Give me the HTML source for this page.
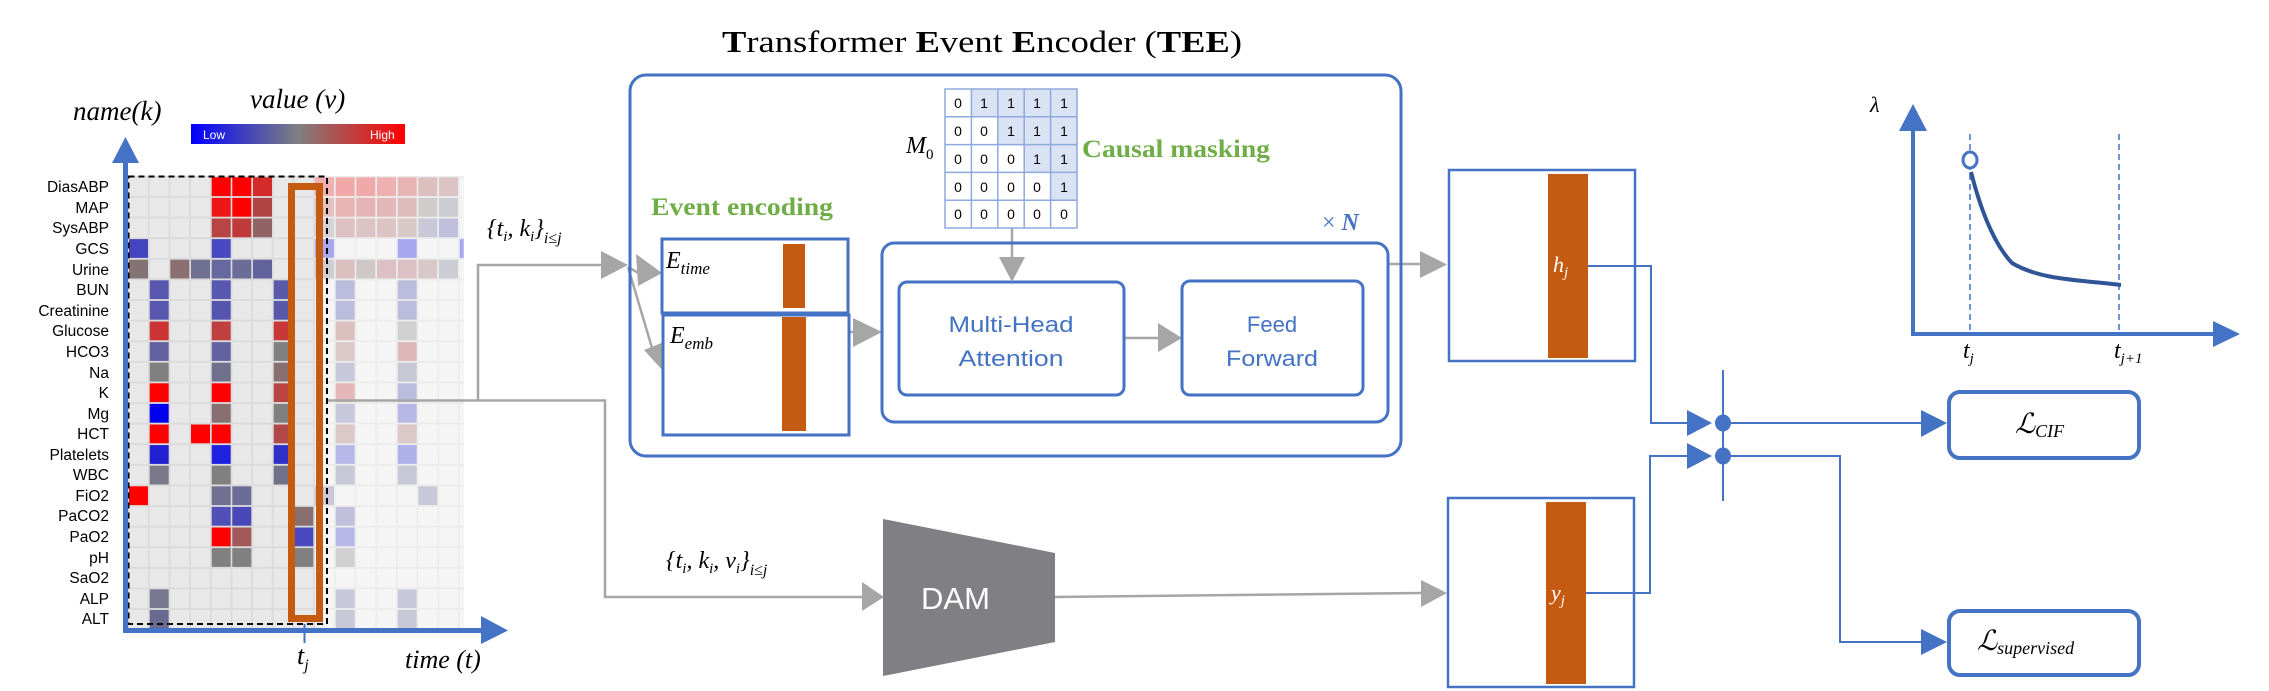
<!DOCTYPE html>
<html><head><meta charset="utf-8"><style>
html,body{margin:0;padding:0;background:#fff;}
svg{display:block;font-family:"Liberation Serif",serif;}
.lab text{font-family:"Liberation Sans",sans-serif;font-size:15.5px;fill:#000;text-anchor:end;}
.m{font-family:"Liberation Serif",serif;font-style:italic;}
.sans{font-family:"Liberation Sans",sans-serif;}
</style></head><body>
<svg width="2269" height="691" viewBox="0 0 2269 691" xmlns="http://www.w3.org/2000/svg">
<defs>
<pattern id="gd" x="129" y="177.3" width="20.67" height="20.6" patternUnits="userSpaceOnUse">
<rect width="20.67" height="20.6" fill="#dadada"/><rect x="0" y="0" width="19" height="18.8" fill="#e8e8e8"/></pattern>
<pattern id="gl" x="129" y="177.3" width="20.67" height="20.6" patternUnits="userSpaceOnUse">
<rect width="20.67" height="20.6" fill="#ececec"/><rect x="0" y="0" width="19" height="18.8" fill="#f5f5f5"/></pattern>
<linearGradient id="cb" x1="0" x2="1" y1="0" y2="0">
<stop offset="0" stop-color="#0000ff"/><stop offset="0.5" stop-color="#808080"/><stop offset="1" stop-color="#ff0000"/></linearGradient>
</defs>

<rect x="128" y="176" width="187" height="454" fill="url(#gd)"/>
<rect x="315" y="176" width="149" height="454" fill="url(#gl)"/>

<g>
<rect x="211.7" y="177.3" width="19" height="18.8" fill="#ff0000"/>
<rect x="232.3" y="177.3" width="19" height="18.8" fill="#ff0000"/>
<rect x="253" y="177.3" width="19" height="18.8" fill="#d42a2a"/>
<rect x="315" y="177.3" width="19" height="18.8" fill="#f0b0b0"/>
<rect x="335.7" y="177.3" width="19" height="18.8" fill="#f2a8a8"/>
<rect x="356.3" y="177.3" width="19" height="18.8" fill="#f0a8a8"/>
<rect x="377" y="177.3" width="19" height="18.8" fill="#eeb0b0"/>
<rect x="397.7" y="177.3" width="19" height="18.8" fill="#e8b4b4"/>
<rect x="418.3" y="177.3" width="19" height="18.8" fill="#dcc0c0"/>
<rect x="439" y="177.3" width="19" height="18.8" fill="#dcc4c4"/>
<rect x="211.7" y="197.9" width="19" height="18.8" fill="#ee1515"/>
<rect x="232.3" y="197.9" width="19" height="18.8" fill="#ff0000"/>
<rect x="253" y="197.9" width="19" height="18.8" fill="#b04444"/>
<rect x="315" y="197.9" width="19" height="18.8" fill="#e4c0c0"/>
<rect x="335.7" y="197.9" width="19" height="18.8" fill="#e8b4b4"/>
<rect x="356.3" y="197.9" width="19" height="18.8" fill="#e6b4b4"/>
<rect x="377" y="197.9" width="19" height="18.8" fill="#e4b8b8"/>
<rect x="397.7" y="197.9" width="19" height="18.8" fill="#dcbcbc"/>
<rect x="418.3" y="197.9" width="19" height="18.8" fill="#d0cccc"/>
<rect x="439" y="197.9" width="19" height="18.8" fill="#cccdd4"/>
<rect x="211.7" y="218.5" width="19" height="18.8" fill="#b84444"/>
<rect x="232.3" y="218.5" width="19" height="18.8" fill="#c03a3a"/>
<rect x="253" y="218.5" width="19" height="18.8" fill="#906464"/>
<rect x="315" y="218.5" width="19" height="18.8" fill="#d4d2d6"/>
<rect x="335.7" y="218.5" width="19" height="18.8" fill="#dcc0c4"/>
<rect x="356.3" y="218.5" width="19" height="18.8" fill="#dcc4c4"/>
<rect x="377" y="218.5" width="19" height="18.8" fill="#dcc4c4"/>
<rect x="397.7" y="218.5" width="19" height="18.8" fill="#d8c8c8"/>
<rect x="418.3" y="218.5" width="19" height="18.8" fill="#c8c8d8"/>
<rect x="439" y="218.5" width="19" height="18.8" fill="#c0c0dc"/>
<rect x="129" y="239.1" width="19" height="18.8" fill="#4444c0"/>
<rect x="211.7" y="239.1" width="19" height="18.8" fill="#4848c0"/>
<rect x="315" y="239.1" width="19" height="18.8" fill="#a8a8f0"/>
<rect x="397.7" y="239.1" width="19" height="18.8" fill="#a8a8f0"/>
<rect x="459.7" y="239.1" width="4" height="18.8" fill="#a8a8f0"/>
<rect x="129" y="259.7" width="19" height="18.8" fill="#857272"/>
<rect x="170.3" y="259.7" width="19" height="18.8" fill="#8a7070"/>
<rect x="191" y="259.7" width="19" height="18.8" fill="#707090"/>
<rect x="211.7" y="259.7" width="19" height="18.8" fill="#6868a0"/>
<rect x="232.3" y="259.7" width="19" height="18.8" fill="#6c6c98"/>
<rect x="253" y="259.7" width="19" height="18.8" fill="#62629c"/>
<rect x="315" y="259.7" width="19" height="18.8" fill="#d0ccd4"/>
<rect x="335.7" y="259.7" width="19" height="18.8" fill="#dcc0c0"/>
<rect x="356.3" y="259.7" width="19" height="18.8" fill="#d0c8c8"/>
<rect x="377" y="259.7" width="19" height="18.8" fill="#dcc0c4"/>
<rect x="397.7" y="259.7" width="19" height="18.8" fill="#dcc0c4"/>
<rect x="418.3" y="259.7" width="19" height="18.8" fill="#d8c8c8"/>
<rect x="439" y="259.7" width="19" height="18.8" fill="#ccccd4"/>
<rect x="149.7" y="280.3" width="19" height="18.8" fill="#5858b0"/>
<rect x="211.7" y="280.3" width="19" height="18.8" fill="#5858b0"/>
<rect x="273.7" y="280.3" width="19" height="18.8" fill="#5a5aa8"/>
<rect x="335.7" y="280.3" width="19" height="18.8" fill="#bcbcdc"/>
<rect x="397.7" y="280.3" width="19" height="18.8" fill="#bcbcdc"/>
<rect x="149.7" y="300.9" width="19" height="18.8" fill="#5858b0"/>
<rect x="211.7" y="300.9" width="19" height="18.8" fill="#5555b0"/>
<rect x="273.7" y="300.9" width="19" height="18.8" fill="#5858a8"/>
<rect x="335.7" y="300.9" width="19" height="18.8" fill="#bcbcdc"/>
<rect x="397.7" y="300.9" width="19" height="18.8" fill="#bcbcdc"/>
<rect x="149.7" y="321.5" width="19" height="18.8" fill="#cc3333"/>
<rect x="211.7" y="321.5" width="19" height="18.8" fill="#c04040"/>
<rect x="273.7" y="321.5" width="19" height="18.8" fill="#c83838"/>
<rect x="335.7" y="321.5" width="19" height="18.8" fill="#dcc0c0"/>
<rect x="397.7" y="321.5" width="19" height="18.8" fill="#d0d0d0"/>
<rect x="149.7" y="342.1" width="19" height="18.8" fill="#6262a0"/>
<rect x="211.7" y="342.1" width="19" height="18.8" fill="#6262a0"/>
<rect x="273.7" y="342.1" width="19" height="18.8" fill="#808080"/>
<rect x="335.7" y="342.1" width="19" height="18.8" fill="#dcc8c8"/>
<rect x="397.7" y="342.1" width="19" height="18.8" fill="#dcb8b8"/>
<rect x="149.7" y="362.7" width="19" height="18.8" fill="#808080"/>
<rect x="211.7" y="362.7" width="19" height="18.8" fill="#70708c"/>
<rect x="273.7" y="362.7" width="19" height="18.8" fill="#887070"/>
<rect x="335.7" y="362.7" width="19" height="18.8" fill="#c8c8dc"/>
<rect x="397.7" y="362.7" width="19" height="18.8" fill="#c8c8d4"/>
<rect x="149.7" y="383.3" width="19" height="18.8" fill="#ff0000"/>
<rect x="211.7" y="383.3" width="19" height="18.8" fill="#ff0000"/>
<rect x="273.7" y="383.3" width="19" height="18.8" fill="#b84444"/>
<rect x="335.7" y="383.3" width="19" height="18.8" fill="#e4b8b8"/>
<rect x="397.7" y="383.3" width="19" height="18.8" fill="#bcbcdc"/>
<rect x="149.7" y="403.9" width="19" height="18.8" fill="#0000ee"/>
<rect x="211.7" y="403.9" width="19" height="18.8" fill="#887070"/>
<rect x="273.7" y="403.9" width="19" height="18.8" fill="#808080"/>
<rect x="335.7" y="403.9" width="19" height="18.8" fill="#c8c8dc"/>
<rect x="397.7" y="403.9" width="19" height="18.8" fill="#b8b8e4"/>
<rect x="149.7" y="424.5" width="19" height="18.8" fill="#ff0000"/>
<rect x="191" y="424.5" width="19" height="18.8" fill="#ff0000"/>
<rect x="211.7" y="424.5" width="19" height="18.8" fill="#ff0000"/>
<rect x="273.7" y="424.5" width="19" height="18.8" fill="#b04848"/>
<rect x="335.7" y="424.5" width="19" height="18.8" fill="#dcc8c8"/>
<rect x="397.7" y="424.5" width="19" height="18.8" fill="#dcc8c8"/>
<rect x="149.7" y="445.1" width="19" height="18.8" fill="#2020d0"/>
<rect x="211.7" y="445.1" width="19" height="18.8" fill="#2020e0"/>
<rect x="273.7" y="445.1" width="19" height="18.8" fill="#3030c8"/>
<rect x="335.7" y="445.1" width="19" height="18.8" fill="#b8b8e8"/>
<rect x="397.7" y="445.1" width="19" height="18.8" fill="#b0b0e8"/>
<rect x="149.7" y="465.7" width="19" height="18.8" fill="#787888"/>
<rect x="211.7" y="465.7" width="19" height="18.8" fill="#808080"/>
<rect x="273.7" y="465.7" width="19" height="18.8" fill="#707088"/>
<rect x="335.7" y="465.7" width="19" height="18.8" fill="#c8c8d8"/>
<rect x="397.7" y="465.7" width="19" height="18.8" fill="#c8c8d8"/>
<rect x="129" y="486.3" width="19" height="18.8" fill="#ff0000"/>
<rect x="211.7" y="486.3" width="19" height="18.8" fill="#707090"/>
<rect x="232.3" y="486.3" width="19" height="18.8" fill="#6c6c98"/>
<rect x="315" y="486.3" width="19" height="18.8" fill="#c8c8d8"/>
<rect x="418.3" y="486.3" width="19" height="18.8" fill="#c8c8d8"/>
<rect x="211.7" y="506.9" width="19" height="18.8" fill="#5050b8"/>
<rect x="232.3" y="506.9" width="19" height="18.8" fill="#4848b8"/>
<rect x="294.3" y="506.9" width="19" height="18.8" fill="#887070"/>
<rect x="335.7" y="506.9" width="19" height="18.8" fill="#c0c0dc"/>
<rect x="211.7" y="527.5" width="19" height="18.8" fill="#ff0000"/>
<rect x="232.3" y="527.5" width="19" height="18.8" fill="#a05858"/>
<rect x="294.3" y="527.5" width="19" height="18.8" fill="#4848c0"/>
<rect x="335.7" y="527.5" width="19" height="18.8" fill="#b8b8e8"/>
<rect x="211.7" y="548.1" width="19" height="18.8" fill="#808080"/>
<rect x="232.3" y="548.1" width="19" height="18.8" fill="#808080"/>
<rect x="294.3" y="548.1" width="19" height="18.8" fill="#808080"/>
<rect x="335.7" y="548.1" width="19" height="18.8" fill="#d0d0d0"/>
<rect x="149.7" y="589.3" width="19" height="18.8" fill="#787890"/>
<rect x="335.7" y="589.3" width="19" height="18.8" fill="#c8c8dc"/>
<rect x="397.7" y="589.3" width="19" height="18.8" fill="#c8c8dc"/>
<rect x="149.7" y="609.9" width="19" height="18.8" fill="#6a6a90"/>
<rect x="335.7" y="609.9" width="19" height="18.8" fill="#c8c8d8"/>
<rect x="397.7" y="609.9" width="19" height="18.8" fill="#c8c8d8"/>
</g>

<rect x="128.5" y="176.5" width="198.5" height="447.5" fill="none" stroke="#000" stroke-width="2" stroke-dasharray="6,4"/>
<rect x="291.5" y="186.5" width="28" height="432" fill="none" stroke="#c55a11" stroke-width="7"/>

<g class="lab">
<text x="109" y="192">DiasABP</text>
<text x="109" y="213">MAP</text>
<text x="109" y="233">SysABP</text>
<text x="109" y="254">GCS</text>
<text x="109" y="275">Urine</text>
<text x="109" y="295">BUN</text>
<text x="109" y="316">Creatinine</text>
<text x="109" y="336">Glucose</text>
<text x="109" y="357">HCO3</text>
<text x="109" y="378">Na</text>
<text x="109" y="398">K</text>
<text x="109" y="419">Mg</text>
<text x="109" y="439">HCT</text>
<text x="109" y="460">Platelets</text>
<text x="109" y="480">WBC</text>
<text x="109" y="501">FiO2</text>
<text x="109" y="521">PaCO2</text>
<text x="109" y="542">PaO2</text>
<text x="109" y="563">pH</text>
<text x="109" y="583">SaO2</text>
<text x="109" y="604">ALP</text>
<text x="109" y="624">ALT</text>
</g>

<line x1="125.5" y1="160" x2="125.5" y2="633" stroke="#4472c4" stroke-width="5"/>
<polygon points="112,163 139,163 125.5,137" fill="#4472c4"/>
<line x1="123" y1="630.5" x2="482" y2="630.5" stroke="#4472c4" stroke-width="5"/>
<polygon points="481,616 481,644 508,630.5" fill="#4472c4"/>
<line x1="304.5" y1="624" x2="304.5" y2="643" stroke="#4472c4" stroke-width="2"/>
<text class="m" x="297" y="664" font-size="26">t<tspan font-size="16" dy="6">j</tspan></text>
<text class="m" x="405" y="668" font-size="26">time (t)</text>
<text class="m" x="73" y="120" font-size="27">name(k)</text>
<text class="m" x="250" y="108" font-size="27">value (v)</text>
<rect x="191" y="124" width="214" height="20" fill="url(#cb)"/>
<text class="sans" x="203" y="139" font-size="12" fill="#fff">Low</text>
<text class="sans" x="370" y="139" font-size="12" fill="#fff">High</text>

<g stroke="#a6a6a6" stroke-width="2.5" fill="none">
<polyline points="328,400.5 605,400.5 605,597 862,597"/>
<polyline points="478,400.5 478,265 604,265"/>
<line x1="628" y1="267" x2="642" y2="275"/>
<line x1="628" y1="267" x2="655" y2="358"/>
<line x1="849" y1="332" x2="864" y2="332"/>
<line x1="1124" y1="338" x2="1160" y2="338"/>
<line x1="1012" y1="228" x2="1012" y2="260"/>
<line x1="1388" y1="264" x2="1422" y2="264"/>
<line x1="1055" y1="597" x2="1422" y2="593"/>
</g>
<g fill="#a6a6a6">
<polygon points="601,251 601,279 628,265"/>
<polygon points="636,254 662,273 638,286"/>
<polygon points="644,350 664,372 671,339"/>
<polygon points="862,582 862,611 884,597"/>
<polygon points="853,318 853,347 882,332"/>
<polygon points="1158,323 1158,352 1182,338"/>
<polygon points="1420,251 1420,278 1447,264.5"/>
<polygon points="1421,580 1421,607 1447,593"/>
</g>
<text class="m" x="487" y="236" font-size="24">{t<tspan font-size="15" dy="5">i</tspan><tspan dy="-5">, k</tspan><tspan font-size="15" dy="5">i</tspan><tspan dy="-5">}</tspan><tspan font-size="16" dy="7">i≤j</tspan></text>
<text class="m" x="666" y="568" font-size="24">{t<tspan font-size="15" dy="5">i</tspan><tspan dy="-5">, k</tspan><tspan font-size="15" dy="5">i</tspan><tspan dy="-5">, v</tspan><tspan font-size="15" dy="5">i</tspan><tspan dy="-5">}</tspan><tspan font-size="16" dy="7">i≤j</tspan></text>

<text x="722" y="52" font-size="31" textLength="520" lengthAdjust="spacingAndGlyphs"><tspan font-weight="bold">T</tspan>ransformer <tspan font-weight="bold">E</tspan>vent <tspan font-weight="bold">E</tspan>ncoder (<tspan font-weight="bold">TEE</tspan>)</text>

<rect x="630" y="75" width="771" height="381" rx="16" fill="none" stroke="#4472c4" stroke-width="3"/>

<g class="sans" font-size="14" text-anchor="middle" fill="#000">
<rect x="945" y="89" width="132" height="139" fill="#fff"/>
<rect x="971.4" y="89" width="105.6" height="27.8" fill="#dae3f3"/>
<rect x="997.8" y="116.8" width="79.2" height="27.8" fill="#dae3f3"/>
<rect x="1024.2" y="144.6" width="52.8" height="27.8" fill="#dae3f3"/>
<rect x="1050.6" y="172.4" width="26.4" height="27.8" fill="#dae3f3"/>
<g stroke="#8faadc" stroke-width="1.5" fill="none">
<rect x="945" y="89" width="132" height="139"/>
<line x1="971.4" y1="89" x2="971.4" y2="228"/><line x1="997.8" y1="89" x2="997.8" y2="228"/>
<line x1="1024.2" y1="89" x2="1024.2" y2="228"/><line x1="1050.6" y1="89" x2="1050.6" y2="228"/>
<line x1="945" y1="116.8" x2="1077" y2="116.8"/><line x1="945" y1="144.6" x2="1077" y2="144.6"/>
<line x1="945" y1="172.4" x2="1077" y2="172.4"/><line x1="945" y1="200.2" x2="1077" y2="200.2"/>
</g>
<text x="958" y="108">0</text><text x="984" y="108">1</text><text x="1011" y="108">1</text><text x="1037" y="108">1</text><text x="1064" y="108">1</text>
<text x="958" y="136">0</text><text x="984" y="136">0</text><text x="1011" y="136">1</text><text x="1037" y="136">1</text><text x="1064" y="136">1</text>
<text x="958" y="164">0</text><text x="984" y="164">0</text><text x="1011" y="164">0</text><text x="1037" y="164">1</text><text x="1064" y="164">1</text>
<text x="958" y="192">0</text><text x="984" y="192">0</text><text x="1011" y="192">0</text><text x="1037" y="192">0</text><text x="1064" y="192">1</text>
<text x="958" y="219">0</text><text x="984" y="219">0</text><text x="1011" y="219">0</text><text x="1037" y="219">0</text><text x="1064" y="219">0</text>
</g>
<text class="m" x="906" y="153" font-size="24">M<tspan font-size="15" dy="6" font-style="normal">0</tspan></text>
<text x="1082" y="157" font-size="25" font-weight="bold" fill="#70ad47" textLength="188" lengthAdjust="spacingAndGlyphs">Causal masking</text>
<text x="651" y="215" font-size="25" font-weight="bold" fill="#70ad47" textLength="182" lengthAdjust="spacingAndGlyphs">Event encoding</text>
<text x="1322" y="230" font-size="24" fill="#4472c4">× <tspan font-weight="bold" font-style="italic">N</tspan></text>

<rect x="662" y="239" width="186" height="74" fill="#fff" stroke="#4472c4" stroke-width="3"/>
<rect x="783" y="244" width="22" height="64" fill="#c55a11"/>
<rect x="663" y="315" width="186" height="120" fill="#fff" stroke="#4472c4" stroke-width="3"/>
<rect x="782" y="317" width="24" height="114" fill="#c55a11"/>
<text class="m" x="666" y="268" font-size="24">E<tspan font-size="17" dy="6">time</tspan></text>
<text class="m" x="670" y="343" font-size="24">E<tspan font-size="17" dy="6">emb</tspan></text>

<rect x="882" y="243" width="506" height="179" rx="12" fill="none" stroke="#4472c4" stroke-width="3"/>
<rect x="899" y="282" width="225" height="113" rx="8" fill="none" stroke="#4472c4" stroke-width="3"/>
<rect x="1182" y="281" width="181" height="114" rx="8" fill="none" stroke="#4472c4" stroke-width="3"/>
<g class="sans" font-size="22" fill="#4472c4" text-anchor="middle">
<text x="1011" y="332" textLength="125" lengthAdjust="spacingAndGlyphs">Multi-Head</text><text x="1011" y="366" textLength="105" lengthAdjust="spacingAndGlyphs">Attention</text>
<text x="1272" y="332">Feed</text><text x="1272" y="366" textLength="92" lengthAdjust="spacingAndGlyphs">Forward</text>
</g>
<polygon points="999,257 1025,257 1012,282" fill="#a6a6a6"/>

<polygon points="883,519 1055,553 1055,642 883,676" fill="#7f7f84"/>
<text class="sans" x="921" y="609" font-size="31" fill="#fff">DAM</text>

<rect x="1449" y="170" width="186" height="191" fill="#fff" stroke="#4472c4" stroke-width="2.5"/>
<rect x="1548" y="174" width="40" height="184" fill="#c55a11"/>
<text class="m" x="1553" y="272" font-size="22" fill="#fff">h<tspan font-size="15" dy="5">j</tspan></text>
<rect x="1448" y="498" width="186" height="189" fill="#fff" stroke="#4472c4" stroke-width="2.5"/>
<rect x="1546" y="502" width="40" height="182" fill="#c55a11"/>
<text class="m" x="1551" y="600" font-size="22" fill="#fff">y<tspan font-size="15" dy="5">j</tspan></text>

<g stroke="#4472c4" stroke-width="2" fill="none">
<polyline points="1588,266 1651,266 1651,423 1690,423"/>
<polyline points="1586,593 1650,593 1650,456 1690,456"/>
<line x1="1723" y1="370" x2="1723" y2="501"/>
<line x1="1723" y1="423" x2="1922" y2="423"/>
<polyline points="1723,456 1840,456 1840,642 1922,642"/>
</g>
<g fill="#4472c4">
<polygon points="1687,410 1687,436 1712,423"/>
<polygon points="1687,443 1687,469 1712,456"/>
<ellipse cx="1723" cy="423" rx="8" ry="8.5"/>
<ellipse cx="1723" cy="456" rx="8" ry="8.5"/>
<polygon points="1921,410 1921,437 1947,423"/>
<polygon points="1921,629 1921,655 1947,642"/>
</g>
<rect x="1949" y="392" width="190" height="66" rx="11" fill="#fff" stroke="#4472c4" stroke-width="4"/>
<rect x="1949" y="611" width="190" height="64" rx="11" fill="#fff" stroke="#4472c4" stroke-width="4"/>
<text class="m" x="2015" y="433" font-size="28">ℒ<tspan font-size="18" dy="4">CIF</tspan></text>
<text class="m" x="1977" y="650" font-size="28">ℒ<tspan font-size="18" dy="4">supervised</tspan></text>

<line x1="1913" y1="125" x2="1913" y2="336" stroke="#4472c4" stroke-width="4"/>
<polygon points="1899,131 1927,131 1913,104" fill="#4472c4"/>
<line x1="1911" y1="334" x2="2216" y2="334" stroke="#4472c4" stroke-width="4"/>
<polygon points="2213,321 2213,347 2240,334" fill="#4472c4"/>
<line x1="1970" y1="134" x2="1970" y2="333" stroke="#4472c4" stroke-width="1.5" stroke-dasharray="6,4"/>
<line x1="2119" y1="134" x2="2119" y2="333" stroke="#4472c4" stroke-width="1.5" stroke-dasharray="6,4"/>
<path d="M1971,172 C1982,215 1995,245 2012,263 C2040,280 2080,280 2121,285" fill="none" stroke="#2f5597" stroke-width="4"/>
<ellipse cx="1970" cy="160" rx="7" ry="8" fill="#fff" stroke="#4472c4" stroke-width="3"/>
<text class="m" x="1870" y="112" font-size="22">λ</text>
<text class="m" x="1963" y="358" font-size="24">t<tspan font-size="15" dy="5">j</tspan></text>
<text class="m" x="2114" y="358" font-size="24">t<tspan font-size="15" dy="5">j+1</tspan></text>
</svg>
</body></html>
